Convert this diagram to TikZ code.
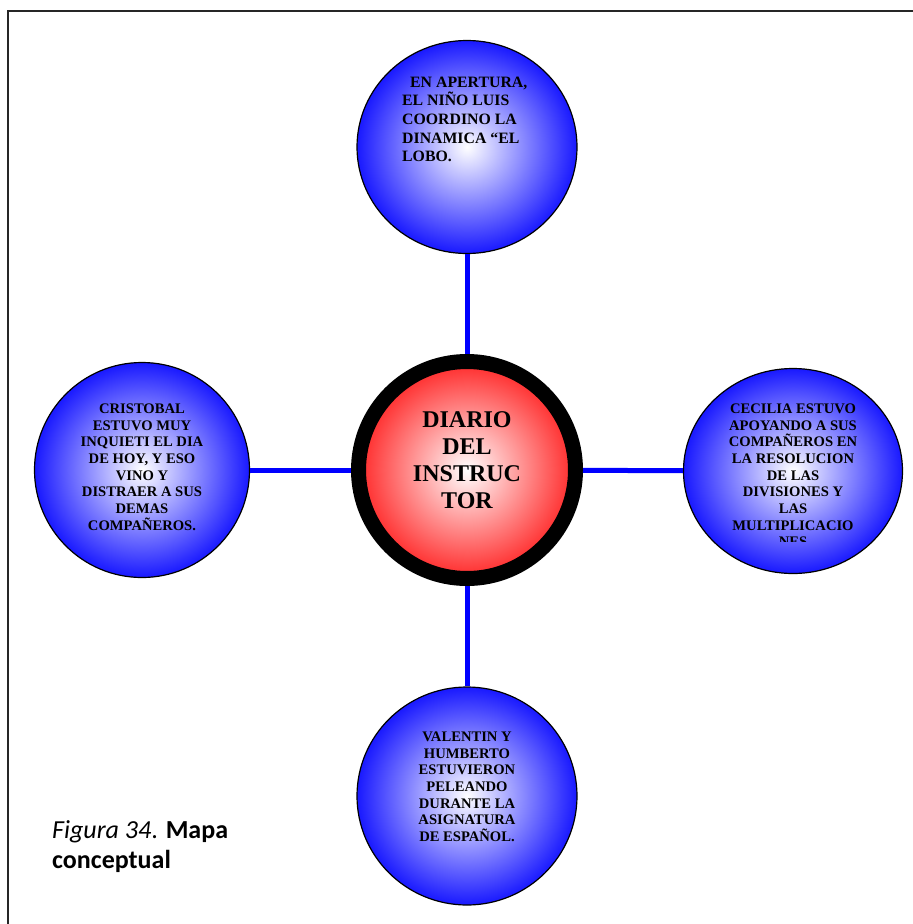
\documentclass[tikz,border=0pt]{standalone}
\usepackage{fontspec}
\setmainfont{Liberation Serif}
\newfontfamily\captionfont{Carlito}
\usetikzlibrary{shapes.geometric}
\definecolor{bubbleblue}{RGB}{25,25,255}
\definecolor{hubred}{RGB}{255,40,40}
\definecolor{linkblue}{RGB}{0,0,255}

\begin{document}
\begin{tikzpicture}[x=1pt,y=-1pt]
        \useasboundingbox (0,0) rectangle (913,924);
        \draw [line width=1.5pt, black!85] (8,924) -- (8,11) -- (913,11);
        \begin{scope}[every node/.style={ellipse,draw=black,line width=1.2pt,inner color=white,outer color=bubbleblue}]
            \node (top) [minimum width=220pt, minimum height=213pt] at (467,147) {};
            \node (left) [minimum width=215pt, minimum height=215pt] at (142,470) {};
            \node (right) [minimum width=219pt, minimum height=205pt] at (793,471) {};
            \node (bottom) [minimum width=220pt, minimum height=218pt] at (467,796) {};
        \end{scope}
        \node (hub) [circle, draw=black, line width=15pt, minimum size=217pt, inner color=white, outer color=hubred] at (467,470) {};
        \path (top) edge[draw=linkblue, line width=5pt] (hub);
        \path (left) edge[draw=linkblue, line width=5pt] (hub);
        \path (hub) edge[draw=linkblue, line width=5pt] (right);
        \path (hub) edge[draw=linkblue, line width=5pt] (bottom);
        \begin{scope}[every node/.style={font=\bfseries\fontsize{15.8}{18.7}\selectfont, inner sep=0pt}]
            \node (topText) [anchor=north west, align=left] at (402,76.5) {\hspace*{8pt}EN APERTURA,\\EL NIÑO LUIS\\COORDINO LA\\DINAMICA “EL\\LOBO.};
        \end{scope}
        \begin{scope}[every node/.style={font=\bfseries\fontsize{14.6}{16.7}\selectfont, align=center, inner sep=0pt, anchor=north}]
            \node (leftText) at (142,403.5) {CRISTOBAL\\ESTUVO MUY\\INQUIETI EL DIA\\DE HOY, Y ESO\\VINO Y\\DISTRAER A SUS\\DEMAS\\COMPAÑEROS.};
            \node (bottomText) at (467,731.5) {VALENTIN Y\\HUMBERTO\\ESTUVIERON\\PELEANDO\\DURANTE LA\\ASIGNATURA\\DE ESPAÑOL.};
            \begin{scope}
                \clip (680,370) rectangle (905,541);
                \node (rightText) at (793,403.5) {CECILIA ESTUVO\\APOYANDO A SUS\\COMPAÑEROS EN\\LA RESOLUCION\\DE LAS\\DIVISIONES Y\\LAS\\MULTIPLICACIO\\NES};
            \end{scope}
            \node (hubText) [font=\bfseries\fontsize{24}{27.3}\selectfont] at (467,411) {DIARIO\\DEL\\INSTRUC\\TOR};
        \end{scope}
        \node (caption) [anchor=north west, align=left, inner sep=0pt, font=\captionfont\fontsize{26}{30}\selectfont] at (52,820) {\textit{Figura 34}. \textbf{Mapa}\\\textbf{conceptual}};
    \end{tikzpicture}
\end{document}
